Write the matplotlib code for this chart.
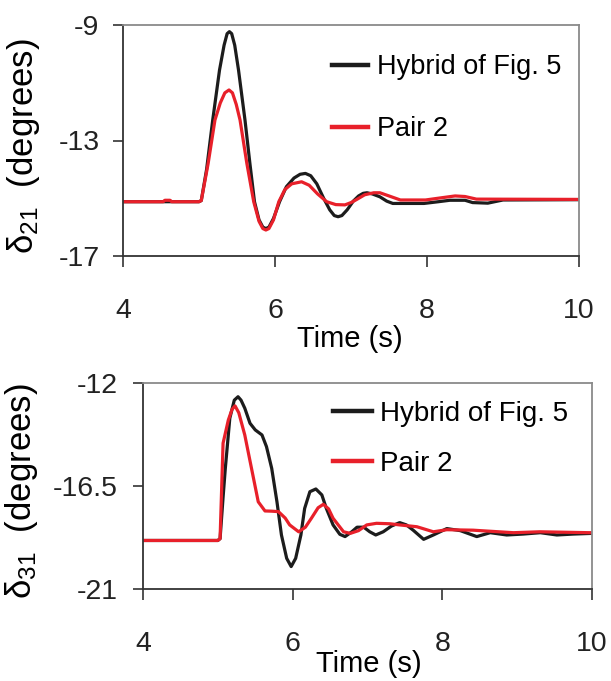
import numpy as np
import matplotlib
matplotlib.use('Agg')
import matplotlib.pyplot as plt

#################################################################
### DATA

# top panel: delta_21
t21_hyb = [4.0, 5.0, 5.03, 5.1, 5.18, 5.27, 5.33, 5.37, 5.40, 5.43, 5.47, 5.52,
           5.605, 5.67, 5.73, 5.79, 5.84, 5.88, 5.92, 5.98, 6.06, 6.15, 6.25,
           6.33, 6.40, 6.47, 6.55, 6.64, 6.72, 6.78, 6.83, 6.88, 6.95, 7.03,
           7.10, 7.16, 7.21, 7.28, 7.38, 7.47, 7.55, 7.96, 8.15, 8.30, 8.50,
           8.60, 8.80, 9.00, 10.0]
d21_hyb = [-15.12, -15.12, -15.08, -14.0, -12.3, -10.56, -9.7, -9.3, -9.23,
           -9.3, -9.7, -10.56, -12.29, -13.8, -15.12, -15.75, -16.0, -16.05,
           -16.0, -15.7, -15.12, -14.6, -14.3, -14.17, -14.14, -14.22, -14.5,
           -15.0, -15.4, -15.6, -15.64, -15.6, -15.4, -15.1, -14.92, -14.83,
           -14.81, -14.85, -14.95, -15.1, -15.18, -15.18, -15.12, -15.07,
           -15.07, -15.15, -15.17, -15.06, -15.05]

t21_pair = [4.0, 4.53, 4.55, 4.62, 4.64, 5.0, 5.03, 5.12, 5.21, 5.28, 5.34,
            5.395, 5.44, 5.49, 5.54, 5.63, 5.72, 5.79, 5.84, 5.88, 5.92, 5.98,
            6.05, 6.13, 6.22, 6.35, 6.45, 6.56, 6.68, 6.80, 6.92, 7.00, 7.07,
            7.18, 7.30, 7.38, 7.50, 7.65, 7.98, 8.20, 8.37, 8.50, 8.65, 10.0]
d21_pair = [-15.12, -15.12, -15.07, -15.07, -15.12, -15.12, -15.08, -13.8,
            -12.29, -11.7, -11.35, -11.25, -11.35, -11.75, -12.29, -13.8,
            -15.12, -15.8, -16.05, -16.1, -16.05, -15.75, -15.12, -14.7,
            -14.5, -14.43, -14.55, -14.85, -15.12, -15.22, -15.23, -15.15,
            -15.05, -14.88, -14.81, -14.81, -14.92, -15.06, -15.06, -14.98,
            -14.92, -14.94, -15.03, -15.04]

# bottom panel: delta_31
t31_hyb = [4.0, 5.0, 5.03, 5.07, 5.10, 5.16, 5.22, 5.27, 5.31, 5.36, 5.43,
           5.50, 5.59, 5.65, 5.72, 5.79, 5.85, 5.92, 5.98, 6.04, 6.11, 6.16,
           6.23, 6.31, 6.39, 6.45, 6.54, 6.63, 6.70, 6.79, 6.86, 6.95, 7.03,
           7.11, 7.21, 7.32, 7.43, 7.52, 7.61, 7.75, 7.88, 8.06, 8.24, 8.46,
           8.64, 8.86, 9.08, 9.31, 9.53, 9.75, 10.0]
d31_hyb = [-18.88, -18.88, -18.8, -17.0, -15.73, -13.54, -12.75, -12.6,
           -12.75, -13.1, -13.76, -14.05, -14.27, -14.78, -15.73, -17.19,
           -18.64, -19.66, -20.02, -19.66, -18.64, -17.48, -16.75, -16.63,
           -16.89, -17.48, -18.2, -18.61, -18.71, -18.5, -18.3, -18.3, -18.5,
           -18.64, -18.5, -18.25, -18.1, -18.2, -18.43, -18.83, -18.64,
           -18.36, -18.45, -18.71, -18.54, -18.64, -18.6, -18.54, -18.64,
           -18.6, -18.57]

t31_pair = [4.0, 5.0, 5.03, 5.07, 5.14, 5.19, 5.23, 5.28, 5.36, 5.45, 5.54,
            5.63, 5.72, 5.81, 5.90, 5.96, 6.08, 6.17, 6.25, 6.34, 6.41, 6.48,
            6.54, 6.68, 6.77, 6.88, 6.99, 7.12, 7.30, 7.43, 7.66, 7.88, 8.06,
            8.41, 8.95, 9.30, 9.97, 10.0]
d31_pair = [-18.88, -18.88, -18.8, -14.63, -13.62, -13.15, -13.0, -13.3,
            -14.27, -15.73, -17.19, -17.59, -17.6, -17.62, -17.9, -18.2,
            -18.5, -18.3, -17.91, -17.45, -17.3, -17.5, -17.91, -18.5, -18.57,
            -18.45, -18.2, -18.13, -18.15, -18.2, -18.28, -18.5, -18.41,
            -18.43, -18.54, -18.5, -18.54, -18.54]

labels = ['Hybrid of Fig. 5', 'Pair 2']
xticks = [4, 6, 8, 10]
yticks21 = [-17, -13, -9]
yticks31 = [-21, -16.5, -12]

#################################################################
### FONTS

plt.rcParams['font.family'] = ['Liberation Sans', 'DejaVu Sans']
plt.rcParams['axes.unicode_minus'] = False
plt.rcParams['mathtext.fontset'] = 'custom'
plt.rcParams['mathtext.rm'] = 'Liberation Sans'
plt.rcParams['mathtext.it'] = 'Liberation Sans'

black = '#1c1c1c'
red = '#e8202a'

W, H = 611, 681
fig = plt.figure(figsize=(W / 100, H / 100), dpi=100)


def px_axes(left, top, right, bottom):
    return fig.add_axes([left / W, 1 - bottom / H, (right - left) / W, (bottom - top) / H])


def style(ax, yticks, ylim, ylab_pad):
    ax.set_xlim(4, 10)
    ax.set_ylim(*ylim)
    ax.set_xticks(xticks)
    ax.set_xticklabels([str(v) for v in xticks])
    ax.set_yticks(yticks)
    ax.set_yticklabels([('%g' % v) for v in yticks])
    ax.tick_params(axis='x', direction='out', length=8, width=1.1, pad=22,
                   labelsize=20.5, colors='#222222')
    ax.tick_params(axis='y', direction='out', length=7, width=1.1, pad=ylab_pad,
                   labelsize=20.5, colors='#222222')
    for s in ['left', 'bottom']:
        ax.spines[s].set_color('#333333')
        ax.spines[s].set_linewidth(1.3)
    for s in ['top', 'right']:
        ax.spines[s].set_color('#8a8a8a')
        ax.spines[s].set_linewidth(1.3)
    ax.patch.set_alpha(0)


### TOP PANEL
ax1 = px_axes(123, 25, 579, 256)
ax1.plot(t21_hyb, d21_hyb, color=black, lw=2.3, label=labels[0])
ax1.plot(t21_pair, d21_pair, color=red, lw=2.3, label=labels[1])
style(ax1, yticks21, (-17, -9), 10)
leg1 = ax1.legend(loc='upper left', bbox_to_anchor=(332 / W, 1 - 54 / H),
                  bbox_transform=fig.transFigure, frameon=False, fontsize=19.5,
                  handlelength=1.33, handletextpad=0.33, labelspacing=1.33,
                  borderpad=0, borderaxespad=0)
for h in leg1.get_lines():
    h.set_linewidth(3.2)

### BOTTOM PANEL
ax2 = px_axes(143, 383, 592, 589)
ax2.plot(t31_hyb, d31_hyb, color=black, lw=2.3, label=labels[0])
ax2.plot(t31_pair, d31_pair, color=red, lw=2.3, label=labels[1])
style(ax2, yticks31, (-21, -12), 11)
leg2 = ax2.legend(loc='upper left', bbox_to_anchor=(333 / W, 1 - 401 / H),
                  bbox_transform=fig.transFigure, frameon=False, fontsize=20,
                  handlelength=1.4, handletextpad=0.3, labelspacing=0.85,
                  borderpad=0, borderaxespad=0)
for h in leg2.get_lines():
    h.set_linewidth(3.2)

### AXIS TITLES
fig.text(350 / W, 1 - 339 / H, 'Time (s)', ha='center', va='center', fontsize=21)
fig.text(369 / W, 1 - 664 / H, 'Time (s)', ha='center', va='center', fontsize=21)
fig.text(24 / W, 1 - 146 / H, r'δ$_{21}$  (degrees)', rotation=90, ha='center',
         va='center', fontsize=25)
fig.text(22 / W, 1 - 491 / H, r'δ$_{31}$  (degrees)', rotation=90, ha='center',
         va='center', fontsize=25)

fig.savefig('out.png', dpi=100)
